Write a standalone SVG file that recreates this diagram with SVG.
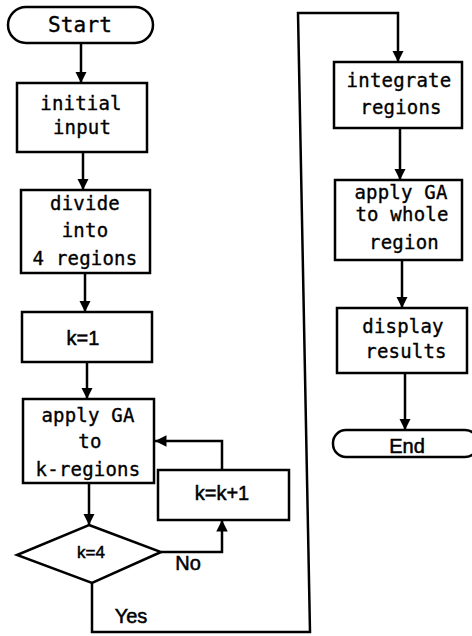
<svg xmlns="http://www.w3.org/2000/svg" width="472" height="636" viewBox="0 0 472 636">
<style>
.box{fill:#fff;stroke:#000;stroke-width:2.5}
.ln{fill:none;stroke:#000;stroke-width:2.5}
.t{font-family:"DejaVu Sans Mono","Liberation Mono",monospace;font-size:19px;letter-spacing:0.2px;text-anchor:middle;fill:#000;stroke:#000;stroke-width:0.35}
.s{font-family:"Liberation Sans",Arial,sans-serif;font-size:20px;text-anchor:middle;fill:#000;stroke:#000;stroke-width:0.5}
</style>
<defs>
<marker id="ah" viewBox="0 0 10 10" refX="10" refY="5" markerWidth="4.6" markerHeight="4.6" orient="auto" markerUnits="strokeWidth">
<path d="M0,0 L10,5 L0,10 Z" fill="#000"/>
</marker>
</defs>
<rect width="472" height="636" fill="#fff"/>
<g id="connectors">
<line class="ln" x1="81" y1="43" x2="81" y2="83" marker-end="url(#ah)"/>
<line class="ln" x1="83" y1="152" x2="83" y2="190" marker-end="url(#ah)"/>
<line class="ln" x1="85" y1="273" x2="85" y2="312" marker-end="url(#ah)"/>
<line class="ln" x1="87" y1="362" x2="87" y2="399" marker-end="url(#ah)"/>
<line class="ln" x1="89" y1="483" x2="89" y2="525" marker-end="url(#ah)"/>
<polyline class="ln" points="161,552 222,552 222,520" marker-end="url(#ah)"/>
<polyline class="ln" points="222,470 222,441 155,441" marker-end="url(#ah)"/>
<polyline class="ln" points="92,583 92,632 310,632 298,13 398,13 398,62" marker-end="url(#ah)"/>
<line class="ln" x1="400" y1="128" x2="400" y2="180" marker-end="url(#ah)"/>
<line class="ln" x1="402" y1="260" x2="402" y2="308" marker-end="url(#ah)"/>
<line class="ln" x1="405" y1="373" x2="405" y2="430" marker-end="url(#ah)"/>
<text class="s" x="188" y="570">No</text>
<text class="s" x="131" y="623">Yes</text>
</g>
<g id="start">
<rect class="box" x="8" y="7" width="145" height="36" rx="18"/>
<text class="t" x="80" y="32" style="font-size:21px">Start</text>
</g>
<g id="initial-input">
<rect class="box" x="17" y="83" width="130" height="69"/>
<text class="t" x="81" y="110">initial</text>
<text class="t" x="82" y="134">input</text>
</g>
<g id="divide">
<rect class="box" x="21" y="190" width="129" height="83"/>
<text class="t" x="85" y="210">divide</text>
<text class="t" x="85" y="237">into</text>
<text class="t" x="85" y="265">4 regions</text>
</g>
<g id="k1">
<rect class="box" x="22" y="312" width="130" height="50"/>
<text class="s" x="83" y="345">k=1</text>
</g>
<g id="apply-k">
<rect class="box" x="23" y="399" width="131" height="84"/>
<text class="t" x="88" y="422">apply GA</text>
<text class="t" x="90" y="448">to</text>
<text class="t" x="88" y="476">k-regions</text>
</g>
<g id="kinc">
<rect class="box" x="158" y="470" width="131" height="50"/>
<text class="s" x="222" y="500">k=k+1</text>
</g>
<g id="decision">
<polygon class="box" points="89,525 161,552 92,583 17,555"/>
<text class="s" x="91" y="558" style="font-size:17px">k=4</text>
</g>
<g id="integrate">
<rect class="box" x="334" y="62" width="128" height="66"/>
<text class="t" x="399" y="87">integrate</text>
<text class="t" x="401" y="114">regions</text>
</g>
<g id="apply-whole">
<rect class="box" x="335" y="180" width="127" height="80"/>
<text class="t" x="401" y="199">apply GA</text>
<text class="t" x="402" y="221">to whole</text>
<text class="t" x="404" y="249">region</text>
</g>
<g id="display">
<rect class="box" x="337" y="308" width="130" height="65"/>
<text class="t" x="403" y="333">display</text>
<text class="t" x="406" y="358">results</text>
</g>
<g id="end">
<rect class="box" x="333" y="430" width="145" height="27" rx="13"/>
<text class="s" x="407" y="453">End</text>
</g>
</svg>
